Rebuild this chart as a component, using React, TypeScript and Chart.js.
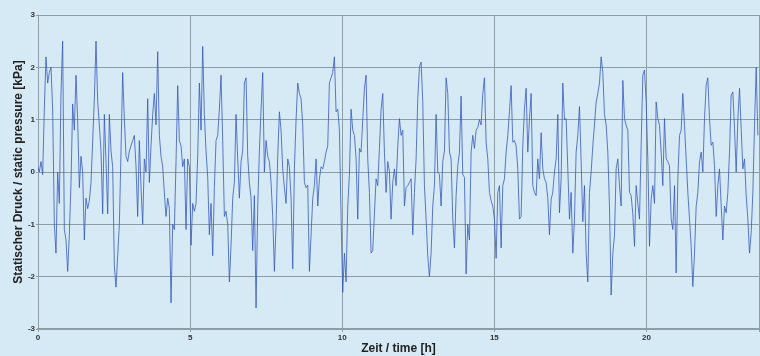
import React, { useEffect, useRef } from "react";
import { Chart, registerables } from "chart.js";

Chart.register(...registerables);

// sample grid of the trace (hours)
const firstHour = -0.066;
const sampleStepHours = 0.0548;

// static pressure [kPa] left to right
const pressure0to4h = [
  0.0, 0.1, 0.0, 0.2, -0.05, 1.2, 2.2, 1.7, 1.9, 2.0, 1.2, -1.0, -1.55, 0.0, -0.6, 1.5, 2.5, -1.1, -1.3, -1.9,
  -1.2, -0.2, 1.3, 0.8, 1.85, 1.0, -0.3, 0.3, 0.0, -1.3, -0.5, -0.7, -0.55, -0.2, 0.6, 1.4, 2.5, 1.35, 0.9, 0.4,
  -0.8, 1.1, 0.2, -0.8, 1.1, 0.4, 0.1, -1.8, -2.2, -1.6, -1.0, 0.4, 1.9, 1.0, 0.3, 0.2, 0.4, 0.5, 0.6, 0.7,
  0.1, -0.85, 0.6, -0.3, -1.0, 0.25, 0.0, 1.4, -0.2, 0.5, 1.1, 1.5,
];
const pressure4to8h = [
  0.9, 2.3, 0.7, 0.3, 0.1, -0.4, -0.85, -0.5, -0.7, -2.5, -1.0, -1.1, 0.2, 1.65, 0.6, 0.5, 0.1, 0.25, -1.1, 0.25,
  0.1, -1.4, -0.6, -0.75, -0.6, 0.3, 1.7, 0.8, 2.4, 1.1, 0.4, -0.1, -1.2, -0.6, -1.6, -0.3, 0.6, 0.7, 1.2, 1.85,
  0.6, -0.85, -0.75, -1.0, -2.1, -1.4, -0.5, -0.2, 1.1, 0.25, -0.5, 0.2, 0.4, 1.7, 1.8, 0.3, -0.2, -0.5, -1.5, -0.45,
  -2.6, -0.65, 0.4, 1.2, 1.9, 0.0, 0.6, 0.3, 0.2, -0.2, -0.85, -1.9,
];
const pressure8to12h = [
  -1.0, 0.3, 1.15, 0.8, 0.06, -0.3, -0.6, 0.25, 0.1, -0.5, -1.85, 0.06, 1.0, 1.7, 1.5, 1.4, 0.9, -0.2, -0.3, -0.25,
  -1.9, -1.2, -0.5, -0.26, 0.25, -0.65, -0.13, 0.1, 0.06, 0.2, 0.38, 0.5, 1.7, 1.8, 1.9, 2.2, 1.15, 1.2, 0.8, -0.85,
  -2.3, -1.55, -2.1, -0.65, -0.06, 1.2, 0.8, 0.7, 0.25, -0.9, 0.45, 0.38, 1.0, 1.6, 1.85, 0.25, -0.39, -1.55, -1.5, -0.8,
  -0.13, -0.26, 0.45, 1.2, 1.5, 0.38, -0.39, 0.2, 0.0, -0.9, -0.2, 0.06,
];
const pressure12to16h = [
  -0.26, 0.5, 1.02, 0.7, 0.8, -0.65, -0.3, -0.26, -0.2, -0.13, -1.2, -0.39, 0.25, 1.4, 2.0, 2.1, 1.34, -0.26, -0.9, -1.6,
  -2.0, -1.55, -0.65, -0.26, 1.1, 0.0, -0.05, -0.65, 0.2, 0.4, 1.8, 1.5, 0.38, 0.25, -0.9, -1.45, -0.45, 0.12, 0.38, 1.45,
  -0.05, -0.1, -1.95, -1.0, -1.3, 0.38, 0.7, 0.45, 0.8, 0.85, 1.0, 0.9, 1.5, 1.8, 0.57, 0.25, -0.39, -0.55, -0.65, -0.9,
  -1.65, -0.39, -0.26, -1.45, -0.26, -0.13, 0.38, 0.7, 1.15, 1.65, 0.57, 0.6,
];
const pressure16to20h = [
  0.5, 0.06, -0.9, -0.85, 0.5, 1.2, 1.6, 0.38, 1.0, 1.5, -0.26, -0.39, -0.45, 0.25, -0.13, 0.75, 0.06, -0.13, -0.2, -0.5,
  -1.2, -0.52, -0.39, 0.0, 0.25, 1.1, -0.78, -0.13, 1.7, 1.0, 1.02, 0.06, -0.9, -0.39, -1.55, -0.9, 0.38, 0.7, 1.25, 0.2,
  -0.95, -0.26, -1.55, -2.1, -0.39, 0.0, 0.5, 0.9, 1.34, 1.5, 1.7, 2.2, 1.9, 1.1, 0.9, 0.38, -0.65, -2.35, -1.55, -1.22,
  0.06, 0.25, -0.26, -0.65, 1.75, 1.02, 0.89, 0.8, -0.39, -0.45, -0.8, -1.42,
];
const pressure20to24h = [
  -0.26, -0.6, -0.9, 0.51, 1.85, 1.95, 1.34, 0.25, -1.42, -0.52, -0.26, -0.6, 1.34, 1.02, 0.89, 0.38, -0.26, 1.02, 0.25, 0.2,
  0.12, -0.9, -1.1, -0.26, -1.93, -0.13, 0.7, 0.8, 1.5, 0.89, 0.25, -0.39, -0.9, -1.42, -2.19, -1.55, -0.65, -0.39, 0.2, 0.38,
  0.0, 1.02, 1.66, 1.8, 1.02, 0.51, 0.57, 0.12, -0.85, -0.26, 0.06, -0.65, -1.3, -0.65, -0.78, -0.39, 0.38, 1.47, 1.53, 0.83,
  0.0, 1.02, 1.6, 0.83, 0.06, 0.25, -0.45, -0.9, -1.55, -1.16, -0.39, 0.89, 2.0, 0.7,
];

const xTickHours = [0, 5, 10, 15, 20];
const xMaxHours = 23.7;
const yMin = -3;
const yMax = 3;

const xTitle = "Zeit / time [h]";
const yTitle = "Statischer Druck / static pressure [kPa]";

export default function App() {
  const ref = useRef<HTMLCanvasElement>(null);

  useEffect(() => {
    const values = [
      ...pressure0to4h,
      ...pressure4to8h,
      ...pressure8to12h,
      ...pressure12to16h,
      ...pressure16to20h,
      ...pressure20to24h,
    ];
    const points = values.map((v, i) => ({ x: firstHour + i * sampleStepHours, y: v }));
    const gridColor = "#8d9ea6";
    const tickFont = { family: "Liberation Sans", size: 8, weight: "bold" as const };
    const titleFont = { family: "Liberation Sans", size: 12, weight: "bold" as const };
    const chart = new Chart(ref.current!, {
      type: "line",
      data: {
        datasets: [
          {
            data: points,
            borderColor: "rgba(52,86,188,0.78)",
            borderWidth: 1,
            pointRadius: 0,
            tension: 0,
            fill: false,
          },
        ],
      },
      options: {
        animation: false,
        responsive: false,
        maintainAspectRatio: false,
        layout: { padding: { top: 15, right: 1, left: 0, bottom: 0 } },
        plugins: { legend: { display: false }, tooltip: { enabled: false } },
        scales: {
          x: {
            type: "linear",
            min: 0,
            max: xMaxHours,
            afterBuildTicks: (s: any) => {
              s.ticks = [...xTickHours, xMaxHours].map((v) => ({ value: v }));
            },
            afterFit: (s: any) => {
              s.height = 27;
            },
            ticks: {
              font: tickFont,
              color: "#333",
              padding: 1,
              maxRotation: 0,
              autoSkip: false,
              callback: (v: any) => (xTickHours.includes(Number(v)) ? String(v) : ""),
            },
            grid: { color: gridColor, lineWidth: 1, tickLength: 3 },
            border: { color: gridColor, width: 2 },
            title: {
              display: true,
              text: xTitle,
              color: "#222",
              font: titleFont,
              padding: { top: 0, bottom: 0 },
            },
          },
          y: {
            min: yMin,
            max: yMax,
            afterFit: (s: any) => {
              s.width = 38;
            },
            ticks: { stepSize: 1, font: tickFont, color: "#333", padding: 1 },
            grid: { color: gridColor, lineWidth: 1, tickLength: 2 },
            border: { color: gridColor, width: 1 },
            title: {
              display: true,
              text: yTitle,
              color: "#222",
              font: titleFont,
              padding: { top: 11, bottom: 0 },
            },
          },
        },
      },
    });
    return () => chart.destroy();
  }, []);

  return (
    <div style={{ position: "fixed", left: 0, top: 0, width: 760, height: 356, background: "#d5eaf5" }}>
      <canvas ref={ref} width={760} height={356} style={{ width: 760, height: 356, display: "block" }} />
    </div>
  );
}
